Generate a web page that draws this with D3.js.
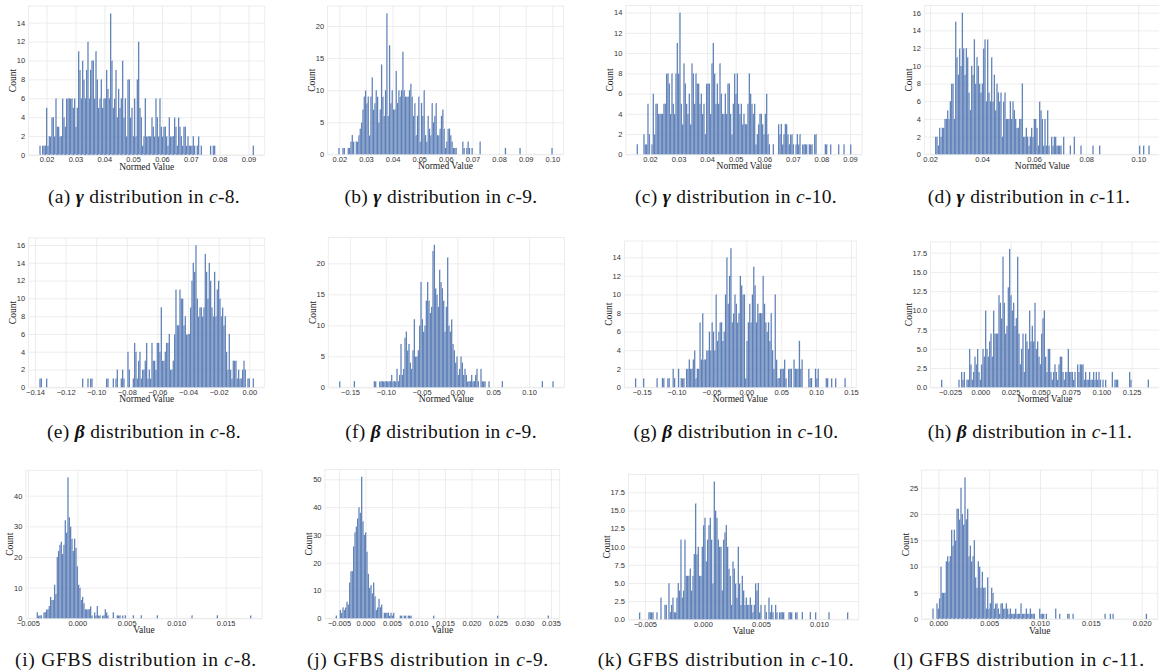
<!DOCTYPE html>
<html><head><meta charset="utf-8">
<script src="https://cdn.jsdelivr.net/npm/d3@7"></script>
<style>body{margin:0;background:#fff} svg{display:block}</style>
</head><body><svg id="c" width="1159" height="672"></svg>
<script>
// ---------- DATA: histogram bin counts (equal-width bins between range[0] and range[1]) ----------
const aCounts = [1,0,1,1,1,5,1,2,2,4, 4,2,6,3,3,2,2,6,4,3, 6,6,6,6,6,5,6,3,5,11, 9,6,10,8,6,9,12,6,9,10,
 10,6,11,8,5,6,8,5,6,6, 9,7,6,15,10,5,6,9,4,7, 5,6,10,4,6,2,8,8,4,5, 2,6,2,8,12,5,4,1,2,6,
 2,2,2,2,4,3,2,6,4,2, 6,3,2,3,3,2,1,4,2,2, 2,4,3,1,4,3,2,1,3,3, 1,2,1,1,1,2,1,0,1,2, 0,1,
 0,0,0,0,0,0,1,0,1,1, 0,0,0,0,0,0,0,0,0,0, 0,0,0,0,0,0,0,0,0,0, 0,0,0,0,0,0,0,0,1];
const aRange = [0.01746, 0.09191];
const bCounts = [1,0,0,1,1,0,0,1,1,2, 3,2,0,2,2,3,4,5,7,9, 10,8,9,3,9,12,7,8,10,9, 5,7,14,9,6,10,22,6,17,8,
 10,7,7,13,8,10,9,10,16,10, 9,9,9,10,11,9,6,8,3,6, 9,2,8,6,10,3,2,6,4,3, 8,5,6,8,3,3,4,6,7,4,
 1,2,4,4,3,2,1,1,1,0, 0,0,0,2,1,0,1,2,1,0, 1,0,0,0,0,0,2,0,0,0, 0,0,0,0,0,0,0,0,0,0,
 0,0,0,0,0,1,0,0,0,0, 0,0,0,0,0,0,1,0,0,0, 0,0,0,0,0,0,0,0,0,0, 0,0,0,0,0,0,0,0,0,0, 1];
const bRange = [0.01962, 0.10012];
const cCounts = [1,0,0,0,0,2,1,1,5,2, 0,1,6,2,5,5,4,4,4,4, 5,5,8,8,7,4,8,5,4,8, 11,8,14,5,3,9,7,5,4,6,
 3,9,8,5,8,7,7,5,6,4, 5,2,7,7,7,4,9,11,8,5, 7,5,9,6,4,4,6,4,7,7, 4,2,5,8,6,8,5,4,5,3,
 4,3,3,5,8,6,5,4,5,1, 2,3,4,4,3,2,4,6,2,1, 0,0,1,0,0,0,3,2,3,1, 2,3,3,2,1,2,2,1,0,1,
 2,1,2,0,1,1,1,1,0,1, 1,1,0,2,2,0,0,0,0,0, 0,1,1,0,0,1,0,0,0,0, 0,1,0,0,0,1,0,0,0,0, 1];
const cRange = [0.01533, 0.09048];
const dCounts = [2,2,1,3,2,3,3,4,4,5, 4,6,8,8,4,15,11,9,12,10, 16,12,9,12,11,7,5,10,9,13, 8,11,10,8,7,8,12,13,6,13,
 7,6,11,6,9,5,8,7,6,7, 2,6,7,4,4,4,6,4,6,5, 4,3,3,4,4,8,2,2,3,2, 1,2,3,2,4,4,3,1,6,5,
 4,1,4,1,5,1,0,2,1,2, 2,1,1,1,1,0,2,0,0,0, 0,1,0,0,2,0,0,0,0,1, 0,0,0,0,0,0,0,0,1,0,
 0,0,0,1,0,0,0,0,0,0, 0,0,0,0,0,0,0,0,0,0, 0,0,0,0,0,0,0,0,0,0, 0,0,0,1,0,0,1,0,0,0, 1];
const dRange = [0.02192, 0.10438];
const eCounts = [1,1,0,0,0,1,0,0,0,0, 0,0,0,0,0,0,0,0,0,0, 0,0,0,0,0,0,0,0,0,0, 0,0,1,0,0,0,1,0,1,1,
 0,0,0,0,0,0,0,0,0,0, 1,1,0,0,0,1,0,1,2,0, 0,1,2,1,0,0,4,2,0,0, 1,5,4,1,3,4,1,2,2,3,
 5,1,2,1,5,3,3,2,5,5, 4,9,3,3,4,5,5,6,2,2, 3,6,11,7,7,11,10,10,7,8, 6,6,6,9,12,14,13,16,10,8,
 9,9,8,9,15,13,10,14,12,9, 8,13,8,11,12,10,8,9,7,8, 4,2,6,2,1,3,3,3,1,2, 1,1,2,3,2,0,1,1,0,0, 1];
const eRange = [-0.13717, 0.00305];
const fCounts = [1,0,0,0,0,0,0,0,0,0, 0,1,0,0,0,0,0,0,0,0, 0,0,0,0,0,0,1,1,0,0, 1,1,1,1,1,1,1,1,1,2,
 1,1,1,3,1,2,7,2,3,8, 9,6,7,4,3,6,11,5,5,6, 10,17,11,9,10,14,17,14,12,13, 22,23,16,15,13,19,17,16,14,9,
 13,21,10,9,11,7,6,4,5,2, 3,5,4,2,3,2,1,1,1,2, 1,1,2,3,1,0,3,1,1,1, 0,0,1,0,0,0,0,0,0,0,
 0,0,1,0,0,0,0,0,0,0, 0,0,0,0,0,0,0,0,0,0, 0,0,0,0,0,0,0,0,0,0, 0,0,1,0,0,0,0,0,0,0, 1];
const fRange = [-0.16536, 0.13445];
const gCounts = [1,0,0,0,0,0,1,0,0,0, 0,0,0,0,0,0,1,0,0,0, 1,1,0,0,1,1,0,0,2,1, 0,0,2,0,1,1,1,0,2,2,
 3,2,2,3,4,1,2,2,7,3, 8,3,3,4,4,6,4,7,6,4, 10,5,6,7,7,5,6,10,14,9, 12,15,7,8,10,9,7,8,12,11,
 10,10,1,5,7,9,7,10,13,11, 7,9,8,8,8,12,9,7,6,7, 5,8,4,2,10,3,1,1,2,2, 2,3,1,0,2,2,2,0,3,2,
 2,2,5,2,3,0,0,0,0,2, 1,1,0,0,2,1,2,0,0,0, 0,0,1,1,0,0,1,0,0,1, 0,0,0,0,0,0,1];
const gRange = [-0.1596, 0.1425];
const hCounts = [1,0,0,0,0,0,0,0,0,0, 0,0,0,1,0,2,1,2,0,1, 1,5,3,1,2,4,3,5,2,1, 3,5,4,10,5,4,6,7,4,10,
 7,7,7,12,11,9,17,11,7,8, 13,18,12,10,11,8,9,17,7,3, 5,7,2,7,6,5,10,6,8,6, 11,5,6,4,3,7,9,10,4,2,
 5,5,2,1,2,3,2,1,3,4, 4,2,1,2,2,5,2,2,2,1, 2,0,3,2,3,3,3,1,2,1, 1,2,1,1,2,1,2,1,2,1,
 0,1,0,1,0,0,0,0,2,0, 1,1,1,0,0,0,0,0,0,0, 0,2,1,0,0,0,0,0,0,0, 0,0,0,0,0,1];
const hRange = [-0.03243, 0.13933];
const iCounts = [2,1,1,1,0,2,2,3,3,4, 7,6,6,11,8,20,22,24,25,21, 24,32,28,46,33,30,26,22,26,23, 17,11,10,6,7,5,3,3,3,3,
 4,1,0,2,1,4,1,1,0,1, 1,3,2,1,0,0,0,2,0,0, 1,1,1,0,1,0,1,0,0,0, 0,0,1,0,0,0,0,0,1,0,
 0,0,0,0,0,0,0,0,0,0, 1,0,0,0,0,0,0,0,0,0, 0,0,0,0,0,0,0,0,0,0, 0,0,0,0,0,0,1,0,0,0,
 0,0,0,0,0,0,0,0,0,0, 0,0,0,0,0,1,0,0,0,0, 0,0,0,0,0,0,0,0,0,0, 0,0,0,0,0,0,0,0,0,0, 1];
const iRange = [-0.004113, 0.0176];
const jCounts = [1,0,0,3,2,4,3,4,6,5, 13,17,17,26,31,33,36,40,38,51, 35,30,31,24,16,11,12,9,13,8, 3,4,7,4,5,0,2,2,2,2,
 1,2,1,2,0,0,0,0,1,1, 0,1,1,0,1,1,1,0,0,0, 0,0,0,0,0,0,0,0,0,0, 0,0,0,1,0,0,0,0,0,0,
 0,0,0,0,0,0,0,0,0,0, 0,0,0,0,0,0,0,0,0,0, 0,0,0,0,0,0,0,0,0,0, 0,0,0,0,0,0,0,0,0,0,
 0,1,0,0,0,0,0,0,0,0, 0,0,0,0,0,0,0,0,0,0, 0,0,0,0,0,0,0,0,0,0, 0,0,0,0,0,0,0,0,0,1];
const jRange = [-0.00563, 0.03463];
const kCounts = [1,0,0,0,0,0,0,1,1,1, 1,0,0,1,0,0,3,0,0,2, 2,0,5,1,2,3,1,1,3,5, 4,11,3,4,11,6,6,6,7,4,
 6,9,16,9,10,6,6,10,13,14, 8,11,13,14,11,5,19,15,14,11, 10,10,4,11,12,13,10,7,6,2, 8,7,5,3,10,5,2,6,4,2,
 3,2,2,3,2,1,2,5,4,5, 1,2,0,0,2,1,0,3,1,2, 1,0,2,1,0,1,1,1,1,0, 0,0,1,1,1,0,0,1,1,0,
 0,0,1,0,0,0,0,0,1,0, 0,0,1,0,0,0,0,0,0,0, 0,0,1,0,0,0,0,0,0,0, 0,0,0,0,0,0,1];
const kRange = [-0.005517, 0.01253];
const lCounts = [2,0,0,3,2,4,10,5,5,5, 11,12,11,12,17,14,17,15,21,21, 19,25,20,18,27,19,21,12,14,11, 12,15,8,6,11,10,6,9,6,6,
 2,8,2,3,6,5,2,3,3,2, 1,3,3,2,2,3,2,1,2,1, 1,1,2,1,1,1,3,1,1,1, 2,1,1,2,1,1,1,0,0,0,
 2,1,1,1,0,1,0,0,0,0, 0,0,2,0,0,1,0,0,0,0, 0,1,1,0,0,1,0,0,0,0, 0,0,0,0,0,0,0,0,0,0,
 0,0,0,0,0,0,0,0,0,1, 0,0,0,1,0,1,0,0,0,0, 0,0,0,0,0,0,0,0,0,0, 0,0,0,0,0,0,0,0,0,0, 1];
const lRange = [-0.00059, 0.02053];

// ---------- tick values ----------
const xTicksA = [0.02,0.03,0.04,0.05,0.06,0.07,0.08,0.09];
const xTicksB = [0.02,0.03,0.04,0.05,0.06,0.07,0.08,0.09,0.10];
const xTicksC = [0.02,0.03,0.04,0.05,0.06,0.07,0.08,0.09];
const xTicksD = [0.02,0.04,0.06,0.08,0.10];
const xTicksE = [-0.14,-0.12,-0.10,-0.08,-0.06,-0.04,-0.02,0.00];
const xTicksF = [-0.15,-0.10,-0.05,0.00,0.05,0.10];
const xTicksG = [-0.15,-0.10,-0.05,0.00,0.05,0.10,0.15];
const xTicksH = [-0.025,0.000,0.025,0.050,0.075,0.100,0.125];
const xTicksI = [-0.005,0.000,0.005,0.010,0.015];
const xTicksJ = [-0.005,0.000,0.005,0.010,0.015,0.020,0.025,0.030,0.035];
const xTicksK = [-0.005,0.000,0.005,0.010];
const xTicksL = [0.000,0.005,0.010,0.015,0.020];
const yTicksA = [0,2,4,6,8,10,12,14];
const yTicksB = [0,5,10,15,20];
const yTicksC = [0,2,4,6,8,10,12,14];
const yTicksD = [0,2,4,6,8,10,12,14,16];
const yTicksE = [0,2,4,6,8,10,12,14,16];
const yTicksF = [0,5,10,15,20];
const yTicksG = [0,2,4,6,8,10,12,14];
const yTicksH = [0,2.5,5,7.5,10,12.5,15,17.5];
const yTicksI = [0,10,20,30,40];
const yTicksJ = [0,10,20,30,40,50];
const yTicksK = [0,2.5,5,7.5,10,12.5,15,17.5];
const yTicksL = [0,5,10,15,20,25];

// ---------- captions ----------
const capLetters = ['a','b','c','d','e','f','g','h','i','j','k','l'];
const capSymbols = ['γ','γ','γ','γ','β','β','β','β','GFBS','GFBS','GFBS','GFBS'];
const capSets = ['8','9','10','11','8','9','10','11','8','9','10','11'];
const xLabels = ['Normed Value','Normed Value','Normed Value','Normed Value','Normed Value','Normed Value','Normed Value','Normed Value','Value','Value','Value','Value'];

// ---------- layout ----------
const boxes = [
  [28.6,6.1,264.7,155.0],[327.6,6.1,563.4,154.3],[625.9,5.5,862.1,154.3],[924.3,5.6,1160.4,154.3],
  [28.6,237.9,264.7,387.3],[328.3,237.6,564.4,387.3],[624.4,241.0,856.3,387.3],[930.6,241.9,1159.4,387.3],
  [25.9,470.2,262.1,618.3],[325.0,469.5,559.7,618.3],[628.5,474.5,858.8,619.3],[921.6,470.1,1157.8,619.0]
];
const capPos = [[144,203],[441,203],[736,203],[1029,203],[144,438],[441,438],[736,438],[1030,438],[136,666],[428,666],[726,666],[1019,666]];
const capSpacing = [0.3,0.3,0.3,0.3,0.3,0.3,0.3,0.3,0.7,0.7,0.7,0.7];

const counts = [aCounts,bCounts,cCounts,dCounts,eCounts,fCounts,gCounts,hCounts,iCounts,jCounts,kCounts,lCounts];
const ranges = [aRange,bRange,cRange,dRange,eRange,fRange,gRange,hRange,iRange,jRange,kRange,lRange];
const xTicks = [xTicksA,xTicksB,xTicksC,xTicksD,xTicksE,xTicksF,xTicksG,xTicksH,xTicksI,xTicksJ,xTicksK,xTicksL];
const yTicks = [yTicksA,yTicksB,yTicksC,yTicksD,yTicksE,yTicksF,yTicksG,yTicksH,yTicksI,yTicksJ,yTicksK,yTicksL];
const xFmts = ['.2f','.2f','.2f','.2f','.2f','.2f','.2f','.3f','.3f','.3f','.3f','.3f'];
const yFmts = ['d','d','d','d','d','d','d','.1f','d','d','.1f','d'];

const svg = d3.select('#c');
const gridColor = '#e8e8e8';
const barColor = '#4c72b0';
const tickFont = '"Liberation Sans", Arial, sans-serif';
const serif = '"Liberation Serif", "Times New Roman", serif';

counts.forEach((cnt, k) => {
  const [L,T,R,B] = boxes[k];
  const [s,e] = ranges[k];
  const n = cnt.length, bw = (e - s) / n, pad = (e - s) * 0.05;
  const x = d3.scaleLinear().domain([s - pad, e + pad]).range([L, R]);
  const y = d3.scaleLinear().domain([0, d3.max(cnt) * 1.05]).range([B, T]);
  const g = svg.append('g');

  // grid + tick labels via axes
  const xa = g.append('g').attr('transform', `translate(0,${B})`)
    .call(d3.axisBottom(x).tickValues(xTicks[k]).tickFormat(d3.format(xFmts[k])).tickSize(-(B - T)).tickPadding(2));
  const ya = g.append('g').attr('transform', `translate(${L},0)`)
    .call(d3.axisLeft(y).tickValues(yTicks[k]).tickFormat(d3.format(yFmts[k])).tickSize(-(R - L)).tickPadding(3.5));
  [xa, ya].forEach(a => {
    a.select('.domain').remove();
    a.selectAll('line').attr('stroke', gridColor).attr('stroke-width', 0.8);
    a.selectAll('text').attr('font-family', tickFont).attr('font-size', 7.5).attr('fill', '#333');
  });
  // frame
  g.append('rect').attr('x', L).attr('y', T).attr('width', R - L).attr('height', B - T)
    .attr('fill', 'none').attr('stroke', gridColor).attr('stroke-width', 0.8);

  // bars
  const bins = cnt.map((c, i) => ({x0: s + i * bw, x1: s + (i + 1) * bw, c})).filter(d => d.c > 0);
  g.append('g').selectAll('rect').data(bins).join('rect')
    .attr('x', d => x(d.x0)).attr('width', d => x(d.x1) - x(d.x0))
    .attr('y', d => y(d.c)).attr('height', d => y(0) - y(d.c))
    .attr('fill', barColor).attr('fill-opacity', 0.9)
    .attr('stroke', '#ffffff').attr('stroke-width', 0.15).attr('stroke-opacity', 0.5);

  // axis labels
  g.append('text').attr('x', (L + R) / 2).attr('y', B + 15).attr('text-anchor', 'middle')
    .attr('font-family', serif).attr('font-size', 9.5).attr('fill', '#222').text(xLabels[k]);
  const left = d3.min(ya.selectAll('text').nodes(), t => t.getBBox().x) + L;
  g.append('text').attr('transform', `translate(${left - 4.2},${(T + B) / 2}) rotate(-90)`)
    .attr('text-anchor', 'middle').attr('dy', '0.35em')
    .attr('font-family', serif).attr('font-size', 9.5).attr('fill', '#222').text('Count');

  // caption
  const cap = svg.append('text').attr('x', capPos[k][0]).attr('y', capPos[k][1]).attr('text-anchor', 'middle')
    .attr('font-family', serif).attr('font-size', 19.5).attr('letter-spacing', capSpacing[k]).attr('fill', '#111');
  cap.append('tspan').text(`(${capLetters[k]}) `);
  const sym = cap.append('tspan').text(capSymbols[k]);
  if (capSymbols[k] !== 'GFBS') sym.attr('font-style', 'italic').attr('font-weight', 'bold');
  cap.append('tspan').text(' distribution in ');
  cap.append('tspan').attr('font-style', 'italic').text('c');
  cap.append('tspan').text(`-${capSets[k]}.`);
});
</script>
</body></html>
